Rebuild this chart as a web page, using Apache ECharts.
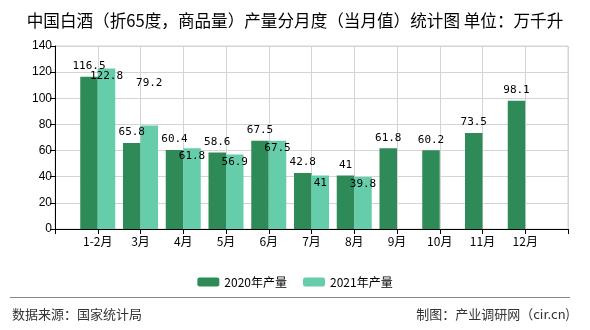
<!DOCTYPE html>
<html><head><meta charset="utf-8">
<script src="https://cdn.jsdelivr.net/npm/echarts@6/dist/echarts.min.js"></script>
<style>html,body{margin:0;padding:0;background:#fff}#c{width:590px;height:330px}</style>
</head><body><div id="c"></div>
<script>
var categories = ['1-2月','3月','4月','5月','6月','7月','8月','9月','10月','11月','12月'];
var values2020 = [116.5,65.8,60.4,58.6,67.5,42.8,41,61.8,60.2,73.5,98.1];
var values2021 = [122.8,79.2,61.8,56.9,67.5,41,39.8,null,null,null,null];
var seriesNames = ['2020年产量','2021年产量'];
var yTicks = {min:0, max:140, interval:20};

var cats = [''].concat(categories, ['']);
function pad(arr){ return [null].concat(arr, [null]); }

var lblFont = '"DejaVu Sans Mono", monospace';
var d2020 = pad(values2020);
var d2021 = pad(values2021).map(function(v, i){
  if (v === null) return null;
  if (i === 2) return {value: v, label: {position: 'top', distance: 37}};
  return v;
});

var chart = echarts.init(document.getElementById('c'));
chart.setOption({
  animation: false,
  title: {
    text: '中国白酒（折65度，商品量）产量分月度（当月值）统计图 单位：万千升',
    left: 'center', top: 7,
    textStyle: {fontSize: 16.6, fontWeight: 'normal', color: '#000', fontFamily: '"Noto Sans CJK SC", sans-serif'}
  },
  grid: {left: 55, right: 22, top: 46, bottom: 101, containLabel: false,
         show: true, borderWidth: 1, borderColor: '#d4d4d4'},
  legend: {
    data: seriesNames, left: 'center', top: 271,
    itemWidth: 22, itemHeight: 9, itemGap: 16,
    textStyle: {fontSize: 12, color: '#000', fontFamily: '"Noto Sans CJK SC", sans-serif'}
  },
  xAxis: {
    type: 'category', data: cats, boundaryGap: false,
    axisLine: {lineStyle: {color: '#000'}},
    axisTick: {show: true, length: 5, interval: 0, lineStyle: {color: '#000'}},
    axisLabel: {interval: 0, color: '#000', fontSize: 12, margin: 6, fontFamily: '"Noto Sans CJK SC", sans-serif'},
    splitLine: {show: true, interval: 0, lineStyle: {color: '#d4d4d4'}}
  },
  yAxis: {
    type: 'value', min: yTicks.min, max: yTicks.max, interval: yTicks.interval,
    axisLine: {show: true, lineStyle: {color: '#000'}},
    axisTick: {show: true, length: 5, lineStyle: {color: '#000'}},
    axisLabel: {color: '#000', fontSize: 12, margin: 3, fontFamily: '"Liberation Sans", Arial, sans-serif'},
    splitLine: {show: true, lineStyle: {color: '#d4d4d4'}}
  },
  series: [
    {name: seriesNames[0], type: 'bar', data: d2020, barWidth: 17.5, barGap: '0%',
     itemStyle: {color: '#2E8B57'},
     label: {show: true, position: 'top', distance: 5, color: '#000', fontSize: 11, fontFamily: lblFont}},
    {name: seriesNames[1], type: 'bar', data: d2021, barWidth: 17.5, barGap: '0%',
     itemStyle: {color: '#66CDAA'},
     label: {show: true, position: 'insideTop', distance: 2, color: '#000', fontSize: 11, fontFamily: lblFont}}
  ],
  graphic: [
    {type: 'line', shape: {x1: 10, y1: 297.5, x2: 570, y2: 297.5}, style: {stroke: '#888', lineWidth: 1}},
    {type: 'text', left: 12, top: 308, style: {text: '数据来源：国家统计局', fontSize: 13, fill: '#333', fontFamily: '"Noto Sans CJK SC", sans-serif'}},
    {type: 'text', right: 20, top: 308, style: {text: '制图：产业调研网（cir.cn)', fontSize: 13, fill: '#333', fontFamily: '"Noto Sans CJK SC", sans-serif'}}
  ]
});
</script></body></html>
